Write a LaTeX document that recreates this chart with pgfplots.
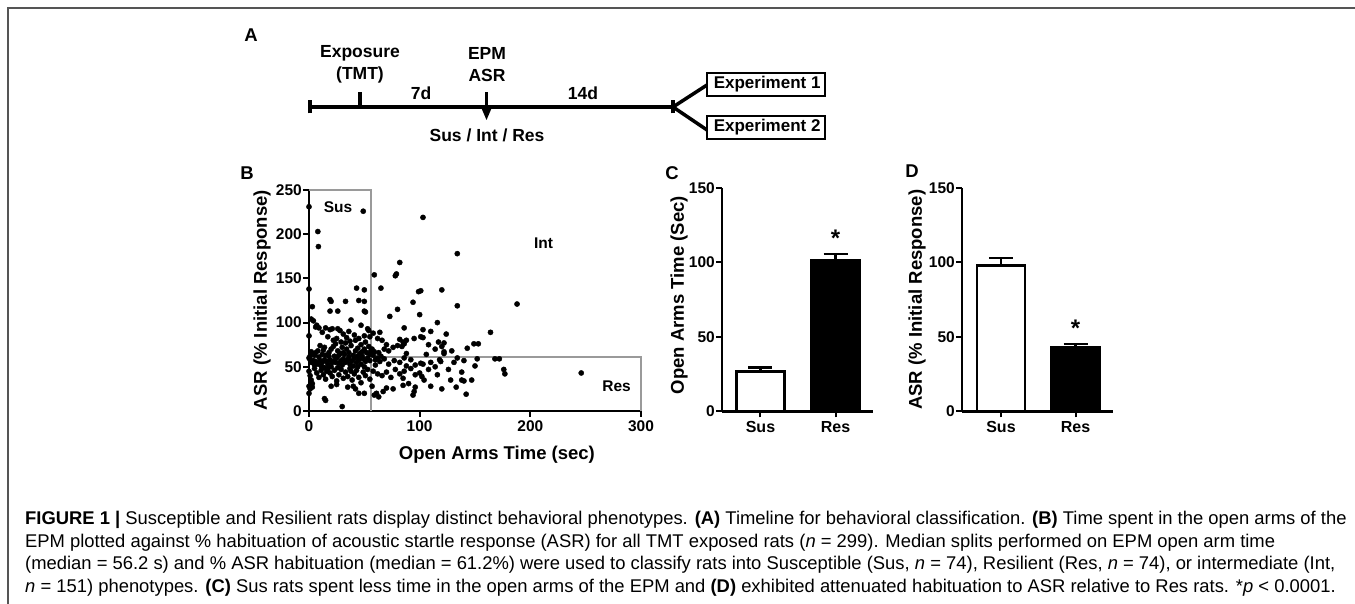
\documentclass[border=0pt]{standalone}
\usepackage{pgfplots}
\pgfplotsset{compat=1.18}
\usepackage{fontspec}
\setmainfont{Liberation Sans}
\newcommand\fs[1]{\fontsize{#1}{#1}\selectfont}
\definecolor{boxgray}{HTML}{9A9A9A}
\definecolor{framegray}{HTML}{555555}

\pgfplotsset{
  prism/.style={
    scale only axis, clip=false,
    axis lines*=left,
    axis line style={-, line width=2.2pt, black},
    tick align=outside, major tick length=6pt,
    tick style={line width=2pt, black},
    ticklabel style={font=\bfseries\fs{15.5}},
    yticklabel style={inner xsep=1pt},
    /pgf/number format/assume math mode=true,
    label style={font=\bfseries\fs{18.5}, anchor=center},
  },
  prismbar/.style={
    prism, ybar, bar width=48pt, bar shift=0pt,
    width=151pt, height=223.5pt,
    ymin=0, ymax=150, ytick={0,50,100,150},
    xtick={1,2}, xticklabels={Sus,Res},
    xticklabel style={font=\bfseries\fs{16}},
  },
  errbar/.style={
    error bars/.cd, y dir=plus, y explicit,
    error bar style={line width=2.5pt, black},
    error mark=-, error mark options={rotate=90, black, line width=2.5pt, mark size=12pt},
  },
}

\begin{document}
\begin{tikzpicture}
\path[use as bounding box] (0,0) rectangle (1355pt,604pt);
% frame
\draw[framegray, line width=2pt] (8.3pt,0pt) -- (8.3pt,595.7pt) -- (1355pt,595.7pt);

% panel letters
\begin{scope}[every node/.style={font=\bfseries\fs{18.5}}]
\node at (251pt,569pt) {A};
\node at (247pt,431pt) {B};
\node at (672pt,431pt) {C};
\node at (912pt,433pt) {D};
\end{scope}

% timeline (A)
\begin{scope}[line width=3.5pt, every node/.style={font=\bfseries\fs{17.5}}]
\draw (310pt,497pt) -- (673pt,497pt);
\draw (310pt,490.5pt) -- (310pt,504pt);
\draw (360pt,497pt) -- (360pt,512pt);
\draw (486.5pt,497pt) -- (486.5pt,512pt);
\fill (480.5pt,498pt) -- (492.5pt,498pt) -- (486.5pt,484pt) -- cycle;
\draw (673pt,490.5pt) -- (673pt,504pt);
\draw (673pt,497pt) -- (707pt,519pt);
\draw (673pt,497pt) -- (707pt,474pt);
\node at (360pt,551pt) {Exposure};
\node at (360pt,529pt) {(TMT)};
\node at (487pt,551pt) {EPM};
\node at (487pt,529pt) {ASR};
\node at (421pt,511pt) {7d};
\node at (583pt,511pt) {14d};
\node at (487pt,469pt) {Sus / Int / Res};
\draw[line width=1.5pt] (707pt,531pt) rectangle (825pt,508pt);
\draw[line width=1.5pt] (707pt,488pt) rectangle (825pt,465pt);
\node[anchor=west, inner sep=0pt, font=\bfseries\fs{17}] at (712pt,519.5pt) {Experiment 1};
\node[anchor=west, inner sep=0pt, font=\bfseries\fs{17}] at (712pt,476.5pt) {Experiment 2};
\end{scope}

% (B) scatter
\begin{axis}[prism, at={(309pt,193pt)}, anchor=south west,
  width=332pt, height=221pt,
  xmin=0, xmax=300, ymin=0, ymax=250,
  xtick={0,100,200,300}, ytick={0,50,100,150,200,250},
  xlabel={Open Arms Time (sec)}, ylabel={ASR (\% Initial Response)},
  xlabel style={at={(axis description cs:0.566,-0.199)}},
  ylabel style={at={(axis description cs:-0.1415,0.502)}},
]
\addplot[boxgray, line width=2pt] coordinates {(0,250) (56.2,250) (56.2,0)};
\addplot[boxgray, line width=2pt] coordinates {(56.2,61.2) (300,61.2) (300,0)};
\addplot[only marks, mark=*, mark size=2.6pt, black] coordinates {
(0,231) (49,226) (8,203) (8.5,186) (103,219) (134,178) (82,168) (78,153) (79,155) (59,154)
(0,138) (43,139) (50,137) (65,139) (188,121) (134,119) (99,135) (101,136) (120,137) (94,123)
(19,126) (20,124) (3,118) (33,124) (45,125) (50,124) (26,113) (19,113) (50,113) (51,112)
(80,115) (73,107) (100,109) (116,100) (2,104) (4,102) (38,103)
(164,89) (103,92) (110,90) (124,87) (86,94) (64,89) (0,85) (6,95) (7,97) (9,94)
(15,94) (19,92) (21,93) (26,93) (28,91) (47,97) (53,93) (54,91) (58,88) (36,90)
(41,86) (12,89) (31,87) (45,82) (50,85) (55,84) (95,82) (101,84) (103,83) (82,81)
(88,80) (85,78) (42,80) (22,80) (25,82) (17,84) (34,83) (62,82) (66,80) (70,75)
(117,78) (122,77) (108,75) (120,73) (122,67) (122,65) (129,68) (143,71) (149,76) (153,76)
(88,65) (106,64) (114,70) (84,73) (86,76) (80,74) (76,72) (72,68) (68,70) (63,66)
(59,67) (57,70) (2,67) (3,65) (5,63) (1,62) (8,68) (12,64) (15,63) (18,66)
(20,70) (22,73) (24,76) (26,68) (28,65) (30,72) (32,64) (34,70) (36,66) (38,74)
(40,63) (42,68) (44,71) (46,65) (48,67) (50,70) (52,66) (54,73) (56,68) (29,78)
(33,77) (37,79) (14,72) (10,74) (23,62) (27,63) (44,62) (55,64) (47,75) (51,78)
(0,60) (1,58) (2,55) (4,57) (6,56) (8,53) (10,57) (12,55) (14,58) (16,56)
(17,53) (19,58) (21,55) (23,57) (25,60) (27,54) (29,57) (31,59) (33,55) (35,58)
(37,53) (39,57) (41,60) (43,55) (45,58) (47,53) (49,59) (51,56) (53,60) (55,57)
(5,52) (11,51) (20,50) (30,52) (40,51) (50,50) (134,60) (140,57) (152,59) (168,59)
(172,59) (118,58) (119,56) (92,58) (101,54) (103,53) (131,55) (60,58) (64,56) (68,59)
(72,53) (77,57) (82,55) (86,60) (96,52) (110,55) (88,51) (114,50) (60,52) (62,60)
(126,47) (150,51) (176,47) (177,42) (138,44) (116,41) (100,43) (102,39) (104,35) (96,41)
(128,35) (138,35) (140,34) (147,35) (90,31) (85,37) (246,43) (58,45) (62,42) (66,40)
(70,44) (74,38) (78,47) (82,42) (86,45) (108,47) (92,48) (0,45) (1,40) (2,35)
(3,31) (5,48) (7,43) (9,38) (11,46) (13,41) (15,36) (17,48) (19,43) (21,39)
(23,46) (25,34) (27,41) (29,47) (31,37) (33,44) (35,39) (37,48) (39,35) (41,42)
(43,46) (45,38) (47,32) (49,44) (51,40) (53,47) (55,36) (14,49) (26,49) (38,45)
(0,28) (1,25) (2,30) (0,20) (3,27) (14,14) (15,12) (30,5) (40,28) (42,25)
(45,20) (50,20) (25,30) (20,28) (35,27) (57,28) (59,18) (61,20) (63,16) (67,22)
(70,26) (76,25) (96,27) (95,22) (94,18) (133,27) (142,19) (110,28) (120,25) (85,29)
(6,66) (9,61) (13,69) (18,62) (58,63) (65,62) (48,62) (36,61) (31,66) (24,55)
(16,45) (44,50)
};
\node[font=\bfseries\fs{15.5}] at (axis cs:26.2,230.8) {Sus};
\node[font=\bfseries\fs{15.5}] at (axis cs:212,190) {Int};
\node[font=\bfseries\fs{15.5}] at (axis cs:278,28) {Res};
\end{axis}

% (C) open arms time
\begin{axis}[prismbar, at={(722pt,192.5pt)}, anchor=south west,
  xmin=0.487, xmax=2.5,
  ylabel={Open Arms Time (Sec)},
  ylabel style={at={(axis description cs:-0.285,0.52)}},
]
\addplot[fill=white, draw=black, line width=2.5pt, errbar] coordinates {(1,26.7) +- (0,2.8)};
\addplot[fill=black, draw=black, line width=2.5pt, errbar] coordinates {(2,101.4) +- (0,4.3)};
\node[font=\bfseries\fs{24}] at (axis cs:2,116) {*};
\end{axis}

% (D) ASR
\begin{axis}[prismbar, at={(962pt,192.5pt)}, anchor=south west,
  xmin=0.477, xmax=2.503,
  ylabel={ASR (\% Initial Response)},
  ylabel style={at={(axis description cs:-0.298,0.5)}},
]
\addplot[fill=white, draw=black, line width=2.5pt, errbar] coordinates {(1,98) +- (0,5)};
\addplot[fill=black, draw=black, line width=2.5pt, errbar] coordinates {(2,43.2) +- (0,2)};
\node[font=\bfseries\fs{24}] at (axis cs:2,56) {*};
\end{axis}

% caption
\begin{scope}[every node/.style={anchor=base west, inner sep=0pt, font=\fs{18.4}}]
\node at (25pt,79.4pt) {\textbf{FIGURE 1 |} Susceptible and Resilient rats display distinct behavioral phenotypes. \textbf{(A)} Timeline for behavioral classification. \textbf{(B)} Time spent in the open arms of the};
\node at (25pt,56.8pt) {EPM plotted against \% habituation of acoustic startle response (ASR) for all TMT exposed rats (\textit{n} = 299). Median splits performed on EPM open arm time};
\node at (25pt,34.2pt) {(median = 56.2 s) and \% ASR habituation (median = 61.2\%) were used to classify rats into Susceptible (Sus, \textit{n} = 74), Resilient (Res, \textit{n} = 74), or intermediate (Int,};
\node at (25pt,11.6pt) {\textit{n} = 151) phenotypes. \textbf{(C)} Sus rats spent less time in the open arms of the EPM and \textbf{(D)} exhibited attenuated habituation to ASR relative to Res rats. *\textit{p} < 0.0001.};
\end{scope}
\end{tikzpicture}
\end{document}
